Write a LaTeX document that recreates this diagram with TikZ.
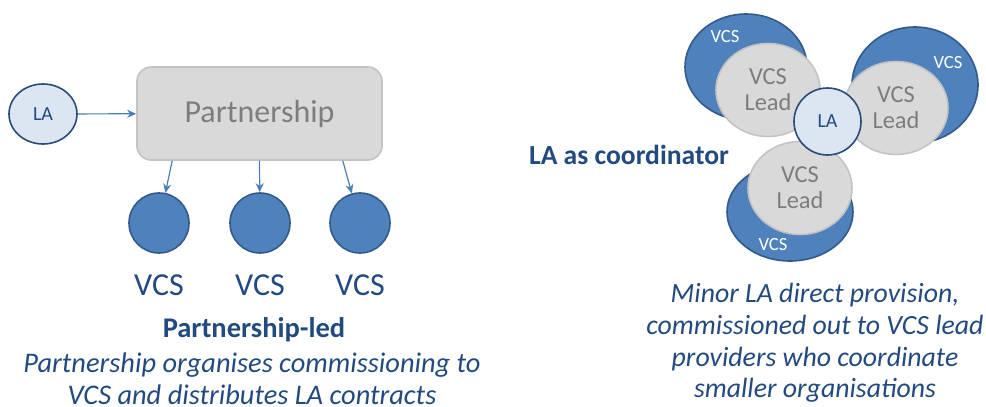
\documentclass[tikz,border=0pt]{standalone}
\usepackage{fontspec}
\setmainfont{Carlito}
\usetikzlibrary{arrows.meta,shapes.geometric}

\definecolor{vcsBlue}{RGB}{79,129,189}
\definecolor{vcsEdge}{RGB}{52,90,140}
\definecolor{laFill}{RGB}{220,230,242}
\definecolor{laEdge}{RGB}{40,75,120}
\definecolor{leadFill}{RGB}{217,217,217}
\definecolor{leadEdge}{RGB}{195,195,195}
\definecolor{leadText}{RGB}{125,125,125}
\definecolor{capText}{RGB}{34,74,128}
\definecolor{arrBlue}{RGB}{74,126,187}

\tikzset{
  laNode/.style={ellipse, draw=laEdge, fill=laFill, line width=1.6pt, inner sep=0pt,
    text=capText, font=\fontsize{20}{22}\selectfont},
  vcsNode/.style={circle, draw=vcsEdge, fill=vcsBlue, line width=1.6pt, minimum size=60pt, inner sep=0pt},
  vcsOuter/.style={ellipse, draw=vcsEdge, fill=vcsBlue, line width=1.6pt, inner sep=0pt},
  leadNode/.style={ellipse, draw=leadEdge, fill=leadFill, line width=1.6pt, inner sep=0pt,
    minimum width=104pt, minimum height=93pt, text=leadText, align=center,
    font=\fontsize{24.4}{26}\selectfont},
  partBox/.style={rectangle, rounded corners=14pt, draw=leadEdge, fill=leadFill, line width=1.6pt,
    minimum width=245pt, minimum height=93pt, text=leadText, font=\fontsize{32}{34}\selectfont},
  vcsLabel/.style={text=capText, font=\fontsize{32}{34}\selectfont},
  smallLabel/.style={text=white, font=\fontsize{18.6}{20}\selectfont},
  capTitle/.style={text=capText, font=\fontsize{28.5}{30}\selectfont\bfseries},
  capDesc/.style={text=capText, align=center, inner sep=0pt, font=\fontsize{28.4}{31.8}\selectfont\itshape},
  arr/.style={-{Stealth[length=9pt,width=8pt]}, draw=arrBlue, line width=1.2pt}
}

\begin{document}
\begin{tikzpicture}[x=1pt,y=-1pt]
  \useasboundingbox (0,0) rectangle (986,407);

  % Partnership-led
  \node[laNode, minimum width=68pt, minimum height=60pt] (LA) at (43,114) {LA};
  \node[partBox] (Part) at (259.5,113.5) {Partnership};
  \node[vcsNode] (VA) at (159,223) {};
  \node[vcsNode] (VB) at (260,223) {};
  \node[vcsNode] (VC) at (360,223) {};
  \node[vcsLabel] (VAText) at (159,285) {VCS};
  \node[vcsLabel] (VBText) at (260,285) {VCS};
  \node[vcsLabel] (VCText) at (360,285) {VCS};
  \node[capTitle] (LedTitle) at (254,330) {Partnership-led};
  \node[capDesc, anchor=base, text depth=0pt] (LedDesc) at (252,404) {Partnership organises commissioning to\\VCS and distributes LA contracts};

  \draw[arr] (LA) -- (Part);
  \draw[arr] ([xshift=36pt]Part.south west) -- (VA);
  \draw[arr] (Part.south) -- (VB);
  \draw[arr] ([xshift=-40pt]Part.south east) -- (VC);

  % LA as coordinator
  \node[vcsOuter, minimum width=122pt, minimum height=106pt] (OutA) at (746,67) {};
  \node[vcsOuter, minimum width=126pt, minimum height=116pt] (OutB) at (915,85) {};
  \node[vcsOuter, minimum width=126pt, minimum height=98pt] (OutC) at (790,212) {};
  \node[smallLabel] (OutAText) at (725,37) {VCS};
  \node[smallLabel] (OutBText) at (948,63) {VCS};
  \node[smallLabel] (OutCText) at (773,245) {VCS};
  \node[leadNode] (LeadA) at (768,90) {VCS\\Lead};
  \node[leadNode] (LeadB) at (896,108) {VCS\\Lead};
  \node[leadNode] (LeadC) at (800,188) {VCS\\Lead};
  \node[laNode, minimum width=67pt, minimum height=67pt] (LAc) at (827.5,121.5) {LA};
  \node[capTitle, font=\fontsize{27.6}{29}\selectfont\bfseries] (CoTitle) at (629,155) {LA as coordinator};
  \node[capDesc, font=\fontsize{27.8}{31.8}\selectfont\itshape] (CoDesc) at (815,343) {Minor LA direct provision,\\commissioned out to VCS lead\\providers who coordinate\\smaller organisations};
\end{tikzpicture}
\end{document}
